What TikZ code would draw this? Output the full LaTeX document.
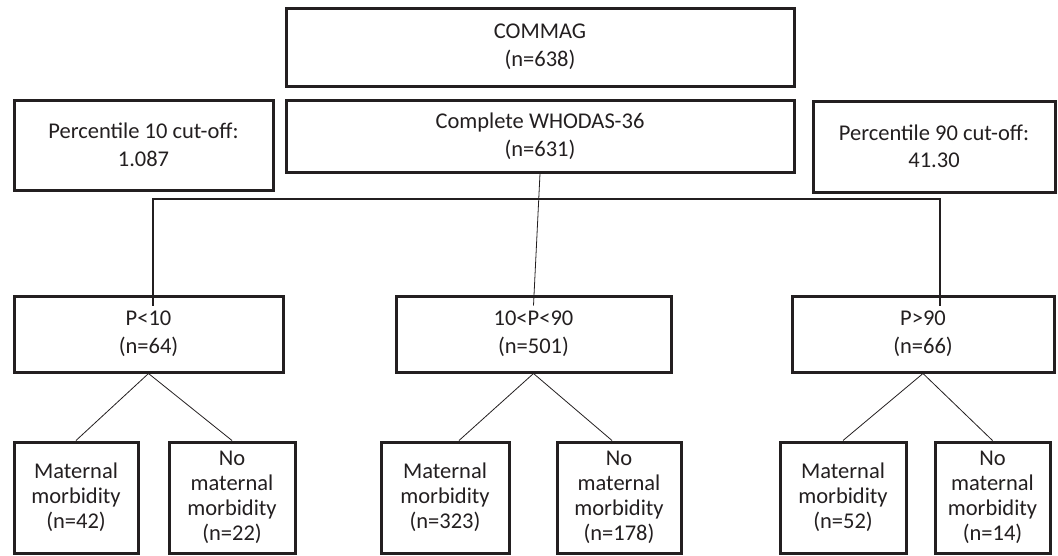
\documentclass[tikz,border=0pt]{standalone}
\usepackage{fontspec}
\setmainfont{Carlito}
\usepackage{tikz}
\usetikzlibrary{positioning}
\definecolor{ink}{HTML}{231F20}

\begin{document}
\begin{tikzpicture}[
            x=1pt, y=-1pt,
            block/.style={rectangle, draw=ink, line width=3pt, text=ink, align=center, inner sep=0pt,
                          font=\fontsize{22.5}{27.5}\selectfont},
            leaf/.style={block, minimum width=#1, minimum height=111pt,
                         font=\fontsize{22.5}{25}\selectfont},
            tree/.style={draw=ink, line width=1.6pt},
            branch/.style={draw=ink, line width=0.8pt}
        ]
        \useasboundingbox (0,0) rectangle (1058,555);

        %top blocks
        \node[block, minimum width=508pt, minimum height=78pt]  (commag)  at (540,47)     {COMMAG\\(n=638)};
        \node[block, minimum width=508pt, minimum height=72pt]  (whodas)  at (540,136)    {Complete WHODAS-36\\(n=631)};
        \node[block, minimum width=259pt, minimum height=90pt]  (cut10)   at (143.5,145)  {Percentile 10 cut-off:\\1.087};
        \node[block, minimum width=242pt, minimum height=91pt]  (cut90)   at (934,146.5)  {Percentile 90 cut-off:\\41.30};

        %percentile groups
        \node[block, minimum width=269pt, minimum height=76pt]  (plow)    at (148.5,334)  {P<10\\(n=64)};
        \node[block, minimum width=275pt, minimum height=76pt]  (pmid)    at (533.5,334)  {10<P<90\\(n=501)};
        \node[block, minimum width=262pt, minimum height=76pt]  (phigh)   at (923,334)    {P>90\\(n=66)};

        %morbidity leaves
        \node[leaf=124pt]   (mm1)   at (76,497.5)    {Maternal\\morbidity\\(n=42)};
        \node[leaf=126pt]   (nm1)   at (232,497.5)   {No\\maternal\\morbidity\\(n=22)};
        \node[leaf=128pt]   (mm2)   at (445,497.5)   {Maternal\\morbidity\\(n=323)};
        \node[leaf=124pt]   (nm2)   at (619,497.5)   {No\\maternal\\morbidity\\(n=178)};
        \node[leaf=126pt]   (mm3)   at (843,497.5)   {Maternal\\morbidity\\(n=52)};
        \node[leaf=115pt]   (nm3)   at (992.5,497.5) {No\\maternal\\morbidity\\(n=14)};

        %split coordinates
        \coordinate (splitl) at (153,199);
        \coordinate (splitr) at (940,199);

        %tree lines
        \draw[tree] ([yshift=-11pt]plow.north -| splitl) -- (splitl) -- (splitr) -- ([yshift=-11pt]phigh.north -| splitr);
        \draw[branch] (whodas.south) -- ([yshift=-11pt]pmid.north);

        %branches
        \draw[branch] (plow.south) -- (mm1.north);
        \draw[branch] (plow.south) -- (nm1.north);
        \draw[branch] (pmid.south) -- ([xshift=14pt]mm2.north);
        \draw[branch] (pmid.south) -- ([xshift=-7pt]nm2.north);
        \draw[branch] (phigh.south) -- (mm3.north);
        \draw[branch] (phigh.south) -- (nm3.north);

\end{tikzpicture}
\end{document}
